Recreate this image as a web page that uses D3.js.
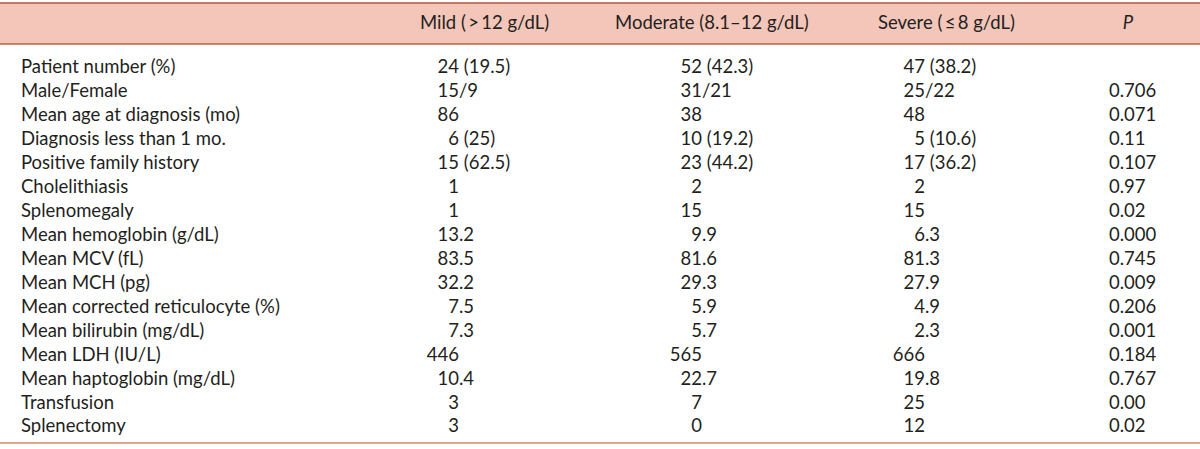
<!DOCTYPE html>
<html>
<head>
<meta charset="utf-8">
<script src="https://cdn.jsdelivr.net/npm/d3@7"></script>
<style>
  body { margin: 0; background: #fff; }
  text { font-family: Lato, "Open Sans", sans-serif; fill: #231f20; white-space: pre; }
</style>
</head>
<body>
<div id="table"></div>
<script>
var svgWidth = 1200;
var svgHeight = 449;

// table data
var columns = ["Mild (\u2009>\u200912 g/dL)", "Moderate (8.1\u201312 g/dL)", "Severe (\u2009\u2264\u20098 g/dL)", "P"];

var rowLabels = [
    "Patient number (%)",
    "Male/Female",
    "Mean age at diagnosis (mo)",
    "Diagnosis less than 1 mo.",
    "Positive family history",
    "Cholelithiasis",
    "Splenomegaly",
    "Mean hemoglobin (g/dL)",
    "Mean MCV (fL)",
    "Mean MCH (pg)",
    "Mean corrected reticulocyte (%)",
    "Mean bilirubin (mg/dL)",
    "Mean LDH (IU/L)",
    "Mean haptoglobin (mg/dL)",
    "Transfusion",
    "Splenectomy"
];

var mild = ["24 (19.5)", "15/9", "86", "6 (25)", "15 (62.5)", "1", "1", "13.2", "83.5", "32.2", "7.5", "7.3", "446", "10.4", "3", "3"];
var moderate = ["52 (42.3)", "31/21", "38", "10 (19.2)", "23 (44.2)", "2", "15", "9.9", "81.6", "29.3", "5.9", "5.7", "565", "22.7", "7", "0"];
var severe = ["47 (38.2)", "25/22", "48", "5 (10.6)", "17 (36.2)", "2", "15", "6.3", "81.3", "27.9", "4.9", "2.3", "666", "19.8", "25", "12"];
var pValues = ["", "0.706", "0.071", "0.11", "0.107", "0.97", "0.02", "0.000", "0.745", "0.009", "0.206", "0.001", "0.184", "0.767", "0.00", "0.02"];

var fontSize = 18.5;

var svg = d3.select("#table")
    .append("svg")
    .attr("width", svgWidth)
    .attr("height", svgHeight);

// header band
svg.append("rect")
    .attr("x", 0)
    .attr("y", 3)
    .attr("width", svgWidth)
    .attr("height", 41)
    .attr("fill", "#f3c6b9");

svg.append("line")
    .attr("x1", 0).attr("x2", svgWidth)
    .attr("y1", 3).attr("y2", 3)
    .attr("stroke", "#b5563f")
    .attr("stroke-width", 1.5);

svg.append("line")
    .attr("x1", 0).attr("x2", svgWidth)
    .attr("y1", 44).attr("y2", 44)
    .attr("stroke", "#b9624a")
    .attr("stroke-width", 1.5);

// row scale
var yScale = d3.scaleBand()
    .domain(rowLabels)
    .range([54.5, 438]);

var rowY = d => yScale(d) + yScale.bandwidth() / 2;

// header text
var headerX = [420, 615, 878, 1128];
svg.append("g")
    .selectAll("text")
    .data(columns)
    .enter()
    .append("text")
    .attr("x", (d, i) => headerX[i])
    .attr("y", 23)
    .attr("dy", "0.35em")
    .attr("font-size", fontSize)
    .attr("text-anchor", (d, i) => i == 3 ? "middle" : "start")
    .attr("font-style", (d, i) => i == 3 ? "italic" : "normal")
    .text(d => d);

// row labels
svg.append("g")
    .selectAll("text")
    .data(rowLabels)
    .enter()
    .append("text")
    .attr("x", 21)
    .attr("y", d => rowY(d))
    .attr("dy", "0.35em")
    .attr("font-size", fontSize)
    .text(d => d);

// value columns, aligned on the units digit of the first number
var unitsX = [459, 702, 925];
[mild, moderate, severe].forEach(function(values, c) {
    var g = svg.append("g");
    values.forEach(function(v, i) {
        var m = v.match(/^(\d+)(.*)$/);
        var y = rowY(rowLabels[i]);
        g.append("text")
            .attr("x", unitsX[c])
            .attr("y", y)
            .attr("dy", "0.35em")
            .attr("font-size", fontSize)
            .attr("text-anchor", "end")
            .text(m[1]);
        g.append("text")
            .attr("x", unitsX[c])
            .attr("y", y)
            .attr("dy", "0.35em")
            .attr("font-size", fontSize)
            .text(m[2]);
    });
});

// P values
svg.append("g")
    .selectAll("text")
    .data(pValues)
    .enter()
    .append("text")
    .attr("x", 1109)
    .attr("y", (d, i) => rowY(rowLabels[i]))
    .attr("dy", "0.35em")
    .attr("font-size", fontSize)
    .text(d => d);

// bottom rule
svg.append("line")
    .attr("x1", 0).attr("x2", svgWidth)
    .attr("y1", 443).attr("y2", 443)
    .attr("stroke", "#e2a48e")
    .attr("stroke-width", 2);
</script>
</body>
</html>
